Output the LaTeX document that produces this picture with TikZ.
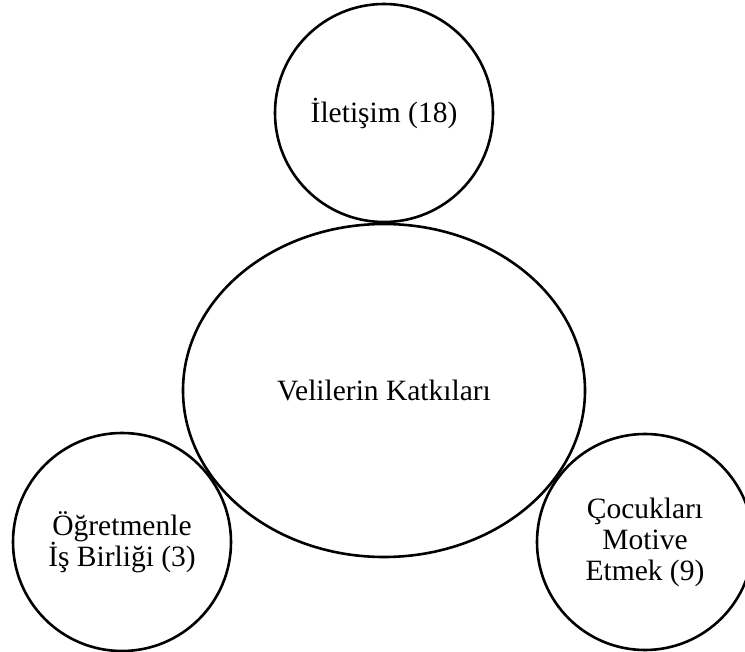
\documentclass[tikz,border=0pt]{standalone}
\usepackage{fontspec}
\setmainfont{Liberation Serif}
\usetikzlibrary{shapes.geometric}
\begin{document}
\begin{tikzpicture}[x=1pt,y=-1pt,
  bubble/.style={circle,draw=black,line width=2.6pt,inner sep=0pt,minimum size=218pt,align=center,font=\fontsize{29.5}{31}\selectfont},
  centre/.style={ellipse,draw=black,line width=2.6pt,inner sep=0pt,minimum width=402pt,minimum height=333pt,align=center,font=\fontsize{29.5}{31}\selectfont}]
\useasboundingbox (0,0) rectangle (745,652);
\node[centre] (mid) at (384,390.5) {Velilerin Katkıları};
\node[bubble] (top) at (384,113) {İletişim (18)};
\node[bubble] (left) at (122,542) {Öğretmenle\\İş Birliği (3)};
\node[bubble,minimum size=216pt] (right) at (645,542) {Çocukları\\Motive\\Etmek (9)};
\end{tikzpicture}
\end{document}
